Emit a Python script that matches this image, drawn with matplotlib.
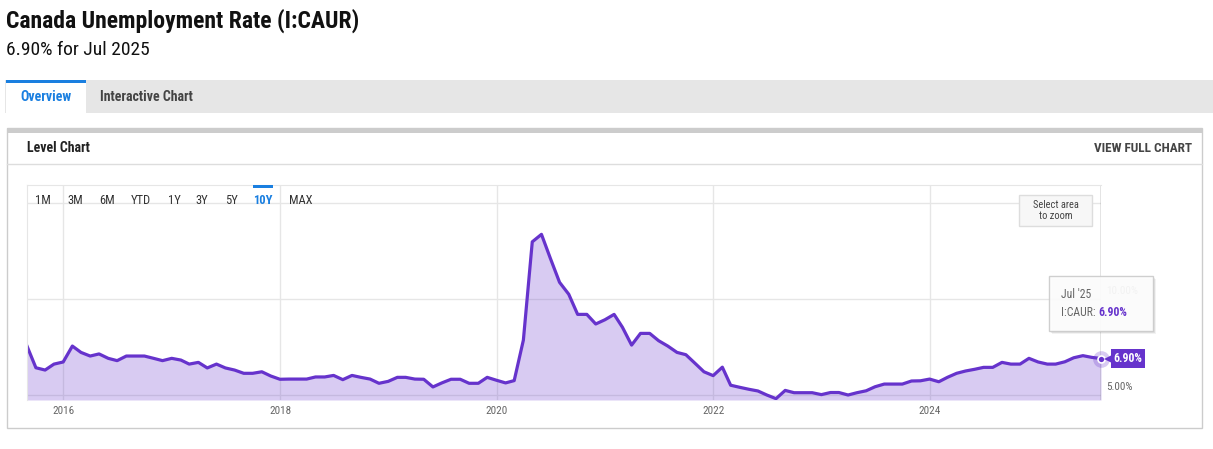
import matplotlib
matplotlib.use("Agg")
import matplotlib.pyplot as plt
from matplotlib.patches import Rectangle
from matplotlib.transforms import offset_copy
import pandas as pd

# Canada unemployment rate, monthly, Aug 2015 - Jul 2025
rate_2015 = [7.55, 6.42, 6.30, 6.61, 6.72]
rate_2016 = [7.55, 7.22, 7.03, 7.14, 6.91, 6.79, 7.03, 7.03, 7.03, 6.91, 6.79, 6.91]
rate_2017 = [6.82, 6.61, 6.70, 6.41, 6.61, 6.41, 6.30, 6.13, 6.13, 6.21, 5.99, 5.82]
rate_2018 = [5.83, 5.83, 5.83, 5.94, 5.94, 6.02, 5.80, 6.02, 5.92, 5.83, 5.61, 5.71]
rate_2019 = [5.92, 5.92, 5.83, 5.82, 5.42, 5.63, 5.82, 5.82, 5.61, 5.61, 5.92, 5.77]
rate_2020 = [5.63, 5.75, 7.86, 12.98, 13.37, 12.12, 10.87, 10.25, 9.20, 9.20, 8.70, 8.92]
rate_2021 = [9.20, 8.53, 7.60, 8.21, 8.21, 7.83, 7.55, 7.22, 7.10, 6.65, 6.21, 6.01]
rate_2022 = [6.45, 5.51, 5.40, 5.30, 5.21, 5.00, 4.81, 5.24, 5.12, 5.12, 5.12, 5.02]
rate_2023 = [5.13, 5.13, 5.00, 5.12, 5.22, 5.43, 5.57, 5.57, 5.57, 5.73, 5.74, 5.83]
rate_2024 = [5.69, 5.92, 6.13, 6.25, 6.34, 6.44, 6.44, 6.70, 6.61, 6.61, 6.91, 6.72]
rate_2025 = [6.61, 6.61, 6.73, 6.94, 7.05, 6.96, 6.90]

rates = (rate_2015 + rate_2016 + rate_2017 + rate_2018 + rate_2019 + rate_2020
         + rate_2021 + rate_2022 + rate_2023 + rate_2024 + rate_2025)
dates = pd.date_range("2015-08-31", periods=len(rates), freq="ME")

tick_years = [2016, 2018, 2020, 2022, 2024]
y_grid = [5, 10, 15]
y_labels = [5, 10]
range_buttons = ["1M", "3M", "6M", "YTD", "1Y", "3Y", "5Y", "10Y", "MAX"]
range_x = [43, 75, 107, 141, 174, 202, 231, 263, 301]
active_range = "10Y"

PURPLE = "#6633cc"
BLUE = "#1a7fe0"
GRID = "#e6e6e6"

plt.rcParams["font.family"] = ["Roboto Condensed", "Roboto", "DejaVu Sans"]

W, H = 1213, 449
fig = plt.figure(figsize=(W / 100, H / 100), dpi=100)


def pixel_axes(x0, y0, x1, y1, z):
    a = fig.add_axes([x0 / W, 1 - y1 / H, (x1 - x0) / W, (y1 - y0) / H], zorder=z)
    return a


def overlay(z):
    a = fig.add_axes([0, 0, 1, 1], zorder=z)
    a.set_xlim(0, W)
    a.set_ylim(H, 0)
    a.axis("off")
    a.patch.set_alpha(0)
    return a


# page furniture
bg = overlay(0)
bg.text(6, 21, "Canada Unemployment Rate (I:CAUR)", fontsize=17, fontweight="bold",
        color="#111111", va="center")
bg.text(6, 50, f"{rates[-1]:.2f}% for {dates[-1].strftime('%b %Y')}", fontsize=14,
        color="#111111", va="center")

bg.add_patch(Rectangle((5, 80), W - 5, 33, fc="#e6e6e6", ec="none"))
bg.add_patch(Rectangle((6, 80), 80, 33, fc="white", ec="none"))
bg.add_patch(Rectangle((6, 80), 80, 3, fc=BLUE, ec="none"))
bg.text(46, 97, "Overview", fontsize=10, fontweight="bold", color=BLUE, ha="center", va="center")
bg.text(100, 97, "Interactive Chart", fontsize=10, fontweight="bold", color="#444444", va="center")

bg.add_patch(Rectangle((7, 128), 1195, 300, fc="white", ec="#cccccc", lw=1))
bg.add_patch(Rectangle((7, 128), 1195, 5, fc="#cccccc", ec="none"))
bg.plot([7, 1202], [164, 164], color="#dddddd", lw=1)
bg.text(27, 148, "Level Chart", fontsize=10, fontweight="bold", color="#222222", va="center")
bg.text(1192, 149, "VIEW FULL CHART", fontsize=9.5, fontweight="bold", color="#444444",
        ha="right", va="center")

# chart
ax = pixel_axes(27, 185, 1101, 400, 1)
ax.patch.set_alpha(0)
ymin, ymax = 4.74, 15.94
ax.set_xlim(dates[0], dates[-1])
ax.set_ylim(ymin, ymax)

ax.set_xticks([pd.Timestamp(f"{y}-01-01") for y in tick_years])
ax.set_xticklabels([str(y) for y in tick_years])
ax.set_yticks(y_grid)
ax.tick_params(axis="x", length=0, pad=4, labelsize=8, labelcolor="#666666")
ax.tick_params(axis="y", left=False, labelleft=False)
ax.grid(True, color=GRID, lw=1)
ax.set_axisbelow(True)
for side in ["right", "bottom"]:
    ax.spines[side].set_visible(False)
for side in ["top", "left"]:
    ax.spines[side].set_color(GRID)

ax.fill_between(dates, rates, ymin, color=PURPLE, alpha=0.25, lw=0)
ax.plot(dates, rates, color=PURPLE, lw=2.3)
ax.axvline(dates[-1], color="#777777", lw=1)

for v in y_labels:
    ax.annotate(f"{v:.2f}%", xy=(1, v), xycoords=("axes fraction", "data"),
                xytext=(4, 2), textcoords="offset points", fontsize=8,
                color="#666666", ha="left", va="bottom", annotation_clip=False)

# last value: halo, dot and flag label
ax.plot(dates[-1], rates[-1], "o", ms=12, color=PURPLE, alpha=0.25, mew=0, clip_on=False)
ax.plot(dates[-1], rates[-1], "o", ms=5, mfc=PURPLE, mec="white", mew=1.2, clip_on=False)
notch = offset_copy(ax.transData, fig=fig, x=8, y=0, units="dots")
ax.plot(dates[-1], rates[-1], "<", ms=7, color=PURPLE, mew=0, clip_on=False,
        transform=notch, zorder=5)
ax.annotate(f"{rates[-1]:.2f}%", xy=(dates[-1], rates[-1]), xytext=(9, 0),
            textcoords="offset points", ha="left", va="center", fontsize=8.5,
            fontweight="bold", color="white", annotation_clip=False, zorder=5,
            bbox=dict(boxstyle="square,pad=0.25", fc=PURPLE, ec="none"))

# overlays: range selector, zoom hint, tooltip
fg = overlay(3)
for label, x in zip(range_buttons, range_x):
    active = label == active_range
    fg.text(x, 201, label, fontsize=9, ha="center", va="center",
            color=BLUE if active else "#333333", fontweight="bold" if active else "normal")
    if active:
        fg.add_patch(Rectangle((x - 10, 185), 20, 3, fc=BLUE, ec="none"))

fg.add_patch(Rectangle((1019, 195), 73, 31, fc="#f7f7f7", ec="#dddddd", lw=1))
fg.text(1055.5, 210.5, "Select area\nto zoom", fontsize=7.5, color="#444444",
        ha="center", va="center", linespacing=1.2)

for off, a in [(3, 0.05), (2, 0.07), (1, 0.09)]:
    fg.add_patch(Rectangle((1049 + off, 276 + off), 104, 55, fc="black", ec="none", alpha=a))
fg.add_patch(Rectangle((1049, 276), 104, 55, fc="white", ec="#cccccc", lw=1, alpha=0.93))
fg.text(1061, 294, dates[-1].strftime("%b '%y"), fontsize=8.5, color="#666666", va="center")
t1 = fg.text(1061, 312, "I:CAUR: ", fontsize=8.5, color="#666666", va="center")
fg.annotate(f"{rates[-1]:.2f}%", xy=(1, 0.5), xycoords=t1, ha="left", va="center",
            fontsize=8.5, fontweight="bold", color=PURPLE)

fig.savefig("out.png", dpi=100)
